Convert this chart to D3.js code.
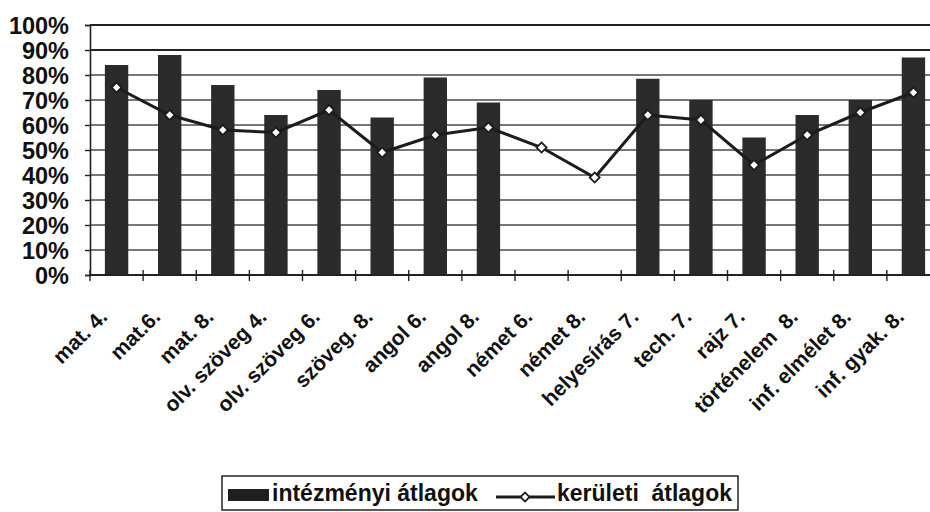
<!DOCTYPE html>
<head>
<meta charset="utf-8">
<style>
  body { margin: 0; background: #fff; }
  svg text { font-family: "Liberation Sans", Arial, sans-serif; font-weight: bold; fill: #111; }
</style>
</head>
<body>
<div id='chart'></div>
<script src="https://cdnjs.cloudflare.com/ajax/libs/d3/7.8.5/d3.min.js"></script>
<script>
var categories = ["mat. 4.", "mat.6.", "mat. 8.", "olv. szöveg 4.", "olv. szöveg 6.", "szöveg. 8.",
  "angol 6.", "angol 8.", "német 6.", "német 8.", "helyesírás 7.", "tech. 7.", "rajz 7.",
  "történelem  8.", "inf. elmélet 8.", "inf. gyak. 8."];
var intezmenyi = [84, 88, 76, 64, 74, 63, 79, 69, null, null, 78.5, 70, 55, 64, 70, 87];
var keruleti = [75, 64, 58, 57, 66, 49, 56, 59, 51, 39, 64, 62, 44, 56, 65, 73];
var yTicks = [0, 10, 20, 30, 40, 50, 60, 70, 80, 90, 100];

var width = 930, height = 512;
var svg = d3.select("#chart").append("svg")
  .attr("width", width)
  .attr("height", height);

var x = d3.scaleBand()
  .domain(categories)
  .range([90, 940])
  .paddingInner(0.56)
  .paddingOuter(0.28);

var y = d3.scaleLinear()
  .domain([0, 100])
  .range([275, 25]);

// gridlines
svg.append('g').selectAll('line')
  .data(yTicks.filter(function(d) { return d > 0; }))
  .enter().append('line')
  .attr('x1', 90).attr('x2', 930)
  .attr('y1', function(d) { return y(d); })
  .attr('y2', function(d) { return y(d); })
  .attr('stroke', function(d) { return d >= 90 ? '#222' : '#4a4a4a'; })
  .attr('stroke-width', function(d) { return d >= 90 ? 1.8 : 1.5; });

// y axis
var yAxis = d3.axisLeft(y)
  .tickValues(yTicks)
  .tickSize(5)
  .tickFormat(function(d) { return d + '%'; });
var gy = svg.append('g')
  .attr('transform', 'translate(90,0)')
  .call(yAxis);
gy.select('.domain').attr('stroke', '#222').attr('stroke-width', 1.6);
gy.selectAll('.tick line').attr('stroke', '#222').attr('stroke-width', 1.4);
gy.selectAll('.tick text')
  .attr('x', -21)
  .attr('dy', '0.36em')
  .attr('font-size', 23.5)
  .style('font-family', '"Liberation Sans", Arial, sans-serif')
  .style('font-weight', 'bold')
  .attr('fill', '#111');

// bars
svg.append('g').selectAll('rect')
  .data(categories.map(function(c, i) { return {c: c, v: intezmenyi[i]}; })
    .filter(function(d) { return d.v != null; }))
  .enter().append('rect')
  .attr('x', function(d) { return x(d.c); })
  .attr('y', function(d) { return y(d.v); })
  .attr('width', x.bandwidth())
  .attr('height', function(d) { return y(0) - y(d.v); })
  .attr('fill', '#2b2b2b');

// x axis with ticks at category boundaries
var step = x.step();
var boundaries = d3.range(categories.length + 1).map(function(i) { return x.range()[0] + i * step; });
svg.append('line')
  .attr('x1', 90).attr('x2', 930)
  .attr('y1', y(0)).attr('y2', y(0))
  .attr('stroke', '#222').attr('stroke-width', 1.8);
svg.append('g').selectAll('line')
  .data(boundaries.filter(function(b) { return b < 930; }))
  .enter().append('line')
  .attr('x1', function(d) { return d; })
  .attr('x2', function(d) { return d; })
  .attr('y1', y(0) - 5).attr('y2', y(0) + 6)
  .attr('stroke', '#222').attr('stroke-width', 1.4);

// x labels
svg.append('g').selectAll('text')
  .data(categories)
  .enter().append('text')
  .attr('transform', function(d) {
    return 'translate(' + (x(d) + x.bandwidth() / 2 - 8) + ',318) rotate(-45)';
  })
  .attr('text-anchor', 'end')
  .attr('font-size', 21)
  .style('white-space', 'pre')
  .text(function(d) { return d; });

// line series
var line = d3.line()
  .x(function(d, i) { return x(categories[i]) + x.bandwidth() / 2; })
  .y(function(d) { return y(d); });
svg.append('path')
  .datum(keruleti)
  .attr('d', line)
  .attr('fill', 'none')
  .attr('stroke', '#1c1c1c')
  .attr('stroke-width', 3);

var diamond = d3.symbol().type(d3.symbolSquare).size(50);
svg.append('g').selectAll('path')
  .data(keruleti)
  .enter().append('path')
  .attr('d', diamond)
  .attr('transform', function(d, i) {
    return 'translate(' + (x(categories[i]) + x.bandwidth() / 2) + ',' + y(d) + ') rotate(45)';
  })
  .attr('fill', '#fff')
  .attr('stroke', '#1c1c1c')
  .attr('stroke-width', 1.8);

// legend
var lg = svg.append('g');
lg.append('rect')
  .attr('x', 222).attr('y', 476)
  .attr('width', 516).attr('height', 34)
  .attr('fill', 'none')
  .attr('stroke', '#222')
  .attr('stroke-width', 1.5);
lg.append('rect')
  .attr('x', 228).attr('y', 489)
  .attr('width', 41).attr('height', 12)
  .attr('fill', '#1f1f1f');
lg.append('text')
  .attr('x', 272).attr('y', 501)
  .attr('font-size', 23)
  .text('intézményi átlagok');
lg.append('line')
  .attr('x1', 496).attr('x2', 555)
  .attr('y1', 497).attr('y2', 497)
  .attr('stroke', '#1c1c1c').attr('stroke-width', 3);
lg.append('path')
  .attr('d', d3.symbol().type(d3.symbolSquare).size(40))
  .attr('transform', 'translate(525,497) rotate(45)')
  .attr('fill', '#fff')
  .attr('stroke', '#1c1c1c')
  .attr('stroke-width', 1.8);
lg.append('text')
  .attr('x', 557).attr('y', 501)
  .attr('font-size', 23)
  .text('kerületi');
lg.append('text')
  .attr('x', 732).attr('y', 501)
  .attr('text-anchor', 'end')
  .attr('font-size', 23)
  .text('átlagok');
</script>
</body>
</html>
